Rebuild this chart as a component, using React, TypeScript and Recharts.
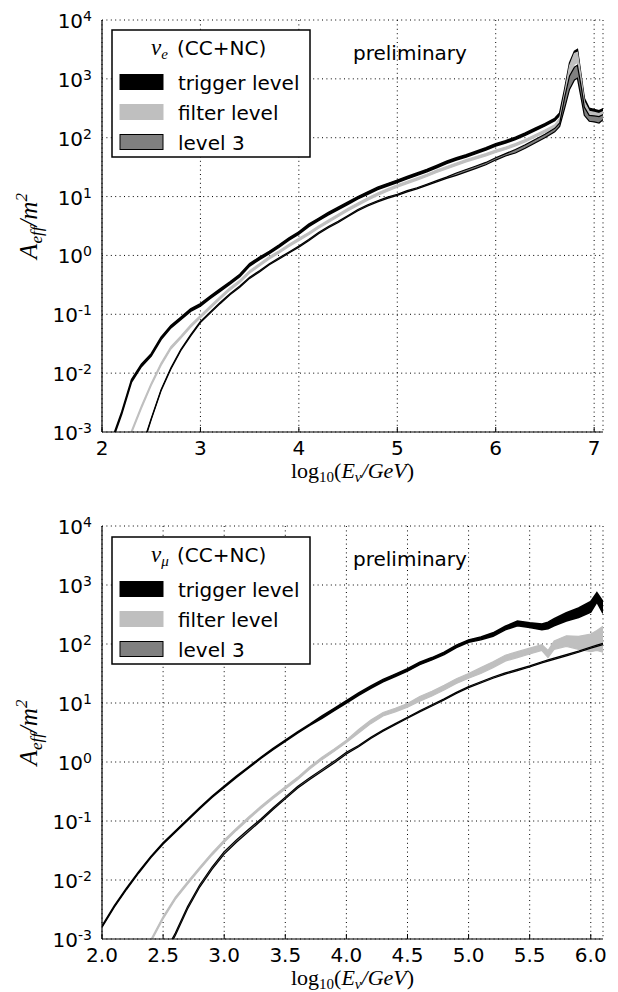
import React from "react";
import { ComposedChart, Area, XAxis, YAxis, CartesianGrid } from "recharts";

const W = 618;
const H = 496;
const PLOT_LEFT = 102;
const PLOT_RIGHT = 603;
const PLOT_W = PLOT_RIGHT - PLOT_LEFT;
const SANS = "DejaVu Sans";
const SERIF = "Liberation Serif";

const FILTER_GRAY = "#bfbfbf";
const LEVEL3_GRAY = "#808080";

// nu_e panel: log10(E/GeV) and band edges, values are log10(A_eff / m^2)
const NUE_E = [
  2.1, 2.2, 2.3, 2.4, 2.5, 2.6, 2.7, 2.8, 2.9, 3.0,
  3.1, 3.2, 3.3, 3.4, 3.5, 3.6, 3.7, 3.8, 3.9, 4.0,
  4.1, 4.2, 4.3, 4.4, 4.5, 4.6, 4.7, 4.8, 4.9, 5.0,
  5.1, 5.2, 5.3, 5.4, 5.5, 5.6, 5.7, 5.8, 5.9, 6.0,
  6.1, 6.2, 6.3, 6.4, 6.5, 6.6,
  6.65, 6.7, 6.75, 6.8, 6.83, 6.87, 6.9, 6.95, 7.0, 7.05, 7.1,
];
const NUE_TRIG_HI = [
  -3.13, -2.66, -2.11, -1.85, -1.67, -1.39, -1.19, -1.05, -0.91, -0.82,
  -0.69, -0.57, -0.45, -0.32, -0.14, -0.03, 0.07, 0.18, 0.3, 0.4,
  0.53, 0.63, 0.73, 0.82, 0.91, 1.0, 1.08, 1.16, 1.22, 1.28,
  1.34, 1.4, 1.46, 1.53, 1.6, 1.66, 1.71, 1.77, 1.83, 1.9,
  1.95, 2.01, 2.08, 2.16, 2.24, 2.33,
  2.42, 2.82, 3.27, 3.47, 3.5, 3.02, 2.67, 2.5, 2.48, 2.46, 2.5,
];
const NUE_TRIG_LO = [
  -3.17, -2.7, -2.15, -1.89, -1.71, -1.43, -1.23, -1.09, -0.95, -0.86,
  -0.73, -0.61, -0.49, -0.36, -0.18, -0.07, 0.03, 0.14, 0.26, 0.36,
  0.49, 0.59, 0.69, 0.78, 0.87, 0.96, 1.04, 1.12, 1.18, 1.24,
  1.3, 1.36, 1.42, 1.49, 1.56, 1.62, 1.67, 1.73, 1.79, 1.86,
  1.91, 1.97, 2.04, 2.12, 2.2, 2.29,
  2.38, 2.76, 3.2, 3.42, 3.46, 2.96, 2.62, 2.46, 2.44, 2.42, 2.46,
];
const NUE_FILT_HI = [
  -3.98, -3.48, -2.98, -2.56, -2.17, -1.83, -1.55, -1.37, -1.18, -1.02,
  -0.86, -0.7, -0.55, -0.42, -0.26, -0.14, -0.02, 0.08, 0.19, 0.29,
  0.39, 0.5, 0.6, 0.7, 0.8, 0.89, 0.98, 1.06, 1.13, 1.2,
  1.26, 1.32, 1.38, 1.45, 1.51, 1.57, 1.63, 1.68, 1.73, 1.79,
  1.84, 1.9, 1.97, 2.05, 2.13, 2.22,
  2.33, 2.75, 3.22, 3.43, 3.45, 2.99, 2.61, 2.45, 2.43, 2.41, 2.45,
];
const NUE_FILT_LO = [
  -4.02, -3.52, -3.02, -2.6, -2.21, -1.87, -1.59, -1.41, -1.22, -1.06,
  -0.9, -0.74, -0.59, -0.46, -0.3, -0.18, -0.06, 0.04, 0.15, 0.25,
  0.35, 0.46, 0.56, 0.66, 0.76, 0.85, 0.94, 1.02, 1.09, 1.16,
  1.22, 1.28, 1.34, 1.41, 1.47, 1.53, 1.59, 1.64, 1.69, 1.75,
  1.8, 1.86, 1.93, 2.01, 2.09, 2.18,
  2.27, 2.62, 3.05, 3.25, 3.28, 2.9, 2.55, 2.39, 2.37, 2.35, 2.39,
];
const NUE_L3_HI = [
  -4.5, -4.0, -3.7, -3.28, -2.77, -2.28, -1.91, -1.6, -1.35, -1.12,
  -0.96, -0.8, -0.65, -0.52, -0.37, -0.26, -0.14, -0.04, 0.06, 0.16,
  0.27, 0.39, 0.49, 0.58, 0.68, 0.78, 0.86, 0.93, 0.99, 1.04,
  1.1, 1.15, 1.21, 1.27, 1.33, 1.4, 1.46, 1.52, 1.58, 1.66,
  1.73, 1.8, 1.88, 1.97, 2.06, 2.16,
  2.25, 2.68, 3.05, 3.2, 3.23, 2.85, 2.52, 2.38, 2.37, 2.36, 2.4,
];
const NUE_L3_LO = [
  -4.55, -4.05, -3.75, -3.32, -2.79, -2.3, -1.93, -1.62, -1.37, -1.14,
  -0.98, -0.82, -0.67, -0.54, -0.39, -0.28, -0.16, -0.06, 0.04, 0.14,
  0.25, 0.37, 0.47, 0.56, 0.66, 0.76, 0.84, 0.91, 0.97, 1.02,
  1.08, 1.13, 1.19, 1.25, 1.31, 1.36, 1.42, 1.48, 1.54, 1.62,
  1.69, 1.74, 1.82, 1.91, 2.0, 2.1,
  2.19, 2.5, 2.82, 2.98, 3.01, 2.65, 2.38, 2.28, 2.27, 2.25, 2.32,
];

// nu_mu panel
const NUMU_E = [
  2.0, 2.1, 2.2, 2.3, 2.4, 2.5, 2.6, 2.7, 2.8, 2.9,
  3.0, 3.1, 3.2, 3.3, 3.4, 3.5, 3.6, 3.7, 3.8, 3.9,
  4.0, 4.1, 4.2, 4.3, 4.4, 4.5, 4.6, 4.7, 4.8, 4.9,
  5.0, 5.1, 5.2, 5.3, 5.4, 5.5, 5.6,
  5.65, 5.7, 5.8, 5.9, 6.0, 6.05, 6.1,
];
const NUMU_TRIG_HI = [
  -2.78, -2.44, -2.14, -1.86, -1.6, -1.37, -1.17, -0.97, -0.77, -0.58,
  -0.41, -0.24, -0.08, 0.08, 0.23, 0.37, 0.51, 0.64, 0.78, 0.91,
  1.04, 1.17, 1.29, 1.4, 1.49, 1.58, 1.69, 1.77, 1.86, 1.98,
  2.07, 2.12, 2.19, 2.3, 2.39, 2.36, 2.34,
  2.37, 2.43, 2.53, 2.61, 2.72, 2.87, 2.72,
];
const NUMU_TRIG_LO = [
  -2.8, -2.46, -2.16, -1.88, -1.62, -1.39, -1.19, -0.99, -0.79, -0.6,
  -0.43, -0.26, -0.1, 0.06, 0.21, 0.35, 0.49, 0.62, 0.74, 0.87,
  1.0, 1.13, 1.25, 1.36, 1.45, 1.54, 1.65, 1.73, 1.82, 1.94,
  2.03, 2.07, 2.13, 2.24, 2.31, 2.28, 2.24,
  2.26, 2.31, 2.39, 2.45, 2.54, 2.71, 2.52,
];
const NUMU_FILT_HI = [
  -4.98, -4.58, -4.08, -3.48, -3.01, -2.62, -2.29, -2.03, -1.78, -1.54,
  -1.32, -1.12, -0.93, -0.75, -0.58, -0.42, -0.26, -0.08, 0.08, 0.22,
  0.37, 0.55, 0.71, 0.84, 0.91, 0.99, 1.11, 1.2, 1.3, 1.41,
  1.5, 1.6, 1.7, 1.81, 1.87, 1.93, 1.99,
  1.89, 2.05, 2.14, 2.13, 2.17, 2.23, 2.3,
];
const NUMU_FILT_LO = [
  -5.02, -4.62, -4.12, -3.52, -3.05, -2.66, -2.33, -2.07, -1.82, -1.58,
  -1.36, -1.16, -0.97, -0.79, -0.62, -0.46, -0.3, -0.12, 0.04, 0.18,
  0.33, 0.49, 0.65, 0.78, 0.85, 0.93, 1.03, 1.12, 1.22, 1.33,
  1.42, 1.5, 1.6, 1.71, 1.77, 1.83, 1.89,
  1.77, 1.91, 1.96, 1.91, 1.87, 1.89, 1.86,
];
const NUMU_L3_HI = [
  -5.98, -5.58, -5.08, -4.58, -3.98, -3.28, -2.9, -2.45, -2.08, -1.78,
  -1.52, -1.32, -1.14, -0.965, -0.775, -0.595, -0.415, -0.265, -0.125, 0.015,
  0.165, 0.28, 0.42, 0.54, 0.65, 0.76, 0.87, 0.97, 1.07, 1.18,
  1.28, 1.36, 1.44, 1.51, 1.57, 1.63, 1.7,
  1.73, 1.76, 1.82, 1.88, 1.95, 1.98, 2.01,
];
const NUMU_L3_LO = [
  -6.02, -5.62, -5.12, -4.62, -4.02, -3.32, -2.94, -2.49, -2.12, -1.82,
  -1.56, -1.36, -1.18, -0.995, -0.805, -0.625, -0.445, -0.295, -0.155, -0.015,
  0.135, 0.26, 0.4, 0.52, 0.63, 0.74, 0.85, 0.95, 1.05, 1.16,
  1.26, 1.34, 1.42, 1.49, 1.55, 1.61, 1.68,
  1.71, 1.74, 1.8, 1.86, 1.93, 1.96, 1.99,
];

const NUE_X_TICKS = [2, 3, 4, 5, 6, 7];
const NUMU_X_TICKS = [2.0, 2.5, 3.0, 3.5, 4.0, 4.5, 5.0, 5.5, 6.0];
const Y_EXPONENTS = [-3, -2, -1, 0, 1, 2, 3, 4];
const Y_MAJOR = Y_EXPONENTS.map((p) => Math.pow(10, p));
const Y_MINOR = Y_EXPONENTS.slice(0, -1).flatMap((p) =>
  [2, 3, 4, 5, 6, 7, 8, 9].map((m) => m * Math.pow(10, p))
);
const Y_ALL = [...Y_MAJOR, ...Y_MINOR].sort((a, b) => a - b);

const LEGEND_LABELS = ["trigger level", "filter level", "level 3"];

function buildRows(e, tLo, tHi, fLo, fHi, lLo, lHi) {
  return e.map((x, i) => ({
    e: x,
    trigger: [10 ** tLo[i], 10 ** tHi[i]],
    filter: [10 ** fLo[i], 10 ** fHi[i]],
    level3: [10 ** lLo[i], 10 ** lHi[i]],
  }));
}

const nueRows = buildRows(NUE_E, NUE_TRIG_LO, NUE_TRIG_HI, NUE_FILT_LO, NUE_FILT_HI, NUE_L3_LO, NUE_L3_HI);
const numuRows = buildRows(NUMU_E, NUMU_TRIG_LO, NUMU_TRIG_HI, NUMU_FILT_LO, NUMU_FILT_HI, NUMU_L3_LO, NUMU_L3_HI);

const isDecade = (v) => Math.abs(Math.log10(v) - Math.round(Math.log10(v))) < 1e-6;

const YLabelTick = ({ x, y, payload }: any) => {
  const exp = Math.round(Math.log10(payload.value));
  return (
    <text x={x - 10} y={y + 8} textAnchor="end" fontFamily={SANS} fontSize={20} fill="#000">
      10
      <tspan dy={-7} fontSize={14}>{exp}</tspan>
    </text>
  );
};

// drawn from the right axis, ticks on both sides, pointing inwards
const YMinorTick = ({ x, y, payload }: any) => {
  const len = isDecade(payload.value) ? 5 : 2.5;
  return (
    <g>
      <line x1={x} x2={x - len} y1={y} y2={y} stroke="#000" strokeWidth={1} />
      <line x1={x - PLOT_W} x2={x - PLOT_W + len} y1={y} y2={y} stroke="#000" strokeWidth={1} />
    </g>
  );
};

const TopTick = ({ x, y }: any) => (
  <line x1={x} x2={x} y1={y} y2={y + 5} stroke="#000" strokeWidth={1} />
);

function Panel({ rows, xMax, xTicks, decimals, marginTop, marginBottom }: any) {
  const BottomTick = ({ x, y, payload }: any) => (
    <g>
      <line x1={x} x2={x} y1={y} y2={y - 5} stroke="#000" strokeWidth={1} />
      <text x={x} y={y + 23} textAnchor="middle" fontFamily={SANS} fontSize={20} fill="#000">
        {Number(payload.value).toFixed(decimals)}
      </text>
    </g>
  );
  const axisLine = { stroke: "#000", strokeWidth: 1.2 };
  return (
    <ComposedChart
      width={W}
      height={H}
      data={rows}
      margin={{ top: marginTop, right: 15, bottom: marginBottom, left: 42 }}
    >
      <CartesianGrid stroke="#000" strokeWidth={1} strokeDasharray="1 3.4" />
      <XAxis
        dataKey="e"
        type="number"
        domain={[2, xMax]}
        allowDataOverflow
        ticks={xTicks}
        interval={0}
        tickSize={0}
        tickMargin={0}
        height={40}
        axisLine={axisLine}
        tickLine={false}
        tick={(p) => <BottomTick {...p} />}
      />
      <XAxis
        xAxisId="top"
        orientation="top"
        dataKey="e"
        type="number"
        domain={[2, xMax]}
        allowDataOverflow
        ticks={xTicks}
        interval={0}
        tickSize={0}
        tickMargin={0}
        height={0}
        axisLine={axisLine}
        tickLine={false}
        tick={(p) => <TopTick {...p} />}
      />
      <YAxis
        type="number"
        scale="log"
        domain={[1e-3, 1e4]}
        allowDataOverflow
        ticks={Y_MAJOR}
        interval={0}
        tickSize={0}
        tickMargin={0}
        width={60}
        axisLine={axisLine}
        tickLine={false}
        tick={(p) => <YLabelTick {...p} />}
      />
      <YAxis
        yAxisId="minor"
        orientation="right"
        type="number"
        scale="log"
        domain={[1e-3, 1e4]}
        allowDataOverflow
        ticks={Y_ALL}
        interval={0}
        tickSize={0}
        tickMargin={0}
        width={0}
        axisLine={axisLine}
        tickLine={false}
        tick={(p) => <YMinorTick {...p} />}
      />
      <Area
        type="linear"
        dataKey="trigger"
        stroke="#000"
        strokeWidth={1.5}
        fill="#000"
        fillOpacity={1}
        dot={false}
        activeDot={false}
        isAnimationActive={false}
      />
      <Area
        type="linear"
        dataKey="filter"
        stroke={FILTER_GRAY}
        strokeWidth={1.2}
        fill={FILTER_GRAY}
        fillOpacity={1}
        dot={false}
        activeDot={false}
        isAnimationActive={false}
      />
      <Area
        type="linear"
        dataKey="level3"
        stroke="#000"
        strokeWidth={1.2}
        fill={LEVEL3_GRAY}
        fillOpacity={1}
        dot={false}
        activeDot={false}
        isAnimationActive={false}
      />
    </ComposedChart>
  );
}

function LegendBox({ top, sub }: any) {
  const fills = ["#000", FILTER_GRAY, LEVEL3_GRAY];
  const edges = ["#000", FILTER_GRAY, "#000"];
  return (
    <g>
      <rect x={112} y={top} width={198} height={127} fill="#fff" stroke="#000" strokeWidth={1.5} />
      <text x={151} y={top + 25} fill="#000">
        <tspan fontFamily={SERIF} fontStyle="italic" fontSize={23}>ν</tspan>
        <tspan fontFamily={SERIF} fontStyle="italic" fontSize={15} dy={4}>{sub}</tspan>
        <tspan x={177} dy={-4} fontFamily={SANS} fontSize={20}>(CC+NC)</tspan>
      </text>
      {LEGEND_LABELS.map((label, i) => (
        <g key={label}>
          <rect x={120} y={top + 44.5 + i * 30} width={43} height={15} fill={fills[i]} stroke={edges[i]} strokeWidth={1} />
          <text x={178} y={top + 59.5 + i * 30} fontFamily={SANS} fontSize={20} fill="#000">
            {label}
          </text>
        </g>
      ))}
    </g>
  );
}

function AxisTitles({ plotTop, plotBottom }: any) {
  const cy = (plotTop + plotBottom) / 2;
  const cx = (PLOT_LEFT + PLOT_RIGHT) / 2;
  return (
    <g fill="#000">
      <text transform={`translate(37 ${cy}) rotate(-90)`} textAnchor="middle" fontFamily={SERIF} fontStyle="italic" fontSize={25}>
        A<tspan fontSize={17} dy={5}>eff</tspan>
        <tspan dy={-5}>/m</tspan>
        <tspan fontSize={17} dy={-10}>2</tspan>
      </text>
      <text x={cx} y={plotBottom + 46} textAnchor="middle" fontFamily={SERIF} fontSize={22}>
        log<tspan fontSize={15} dy={4}>10</tspan>
        <tspan dy={-4}>(</tspan>
        <tspan fontStyle="italic">E</tspan>
        <tspan fontStyle="italic" fontSize={15} dy={4}>ν</tspan>
        <tspan fontStyle="italic" dy={-4}>/GeV</tspan>
        <tspan>)</tspan>
      </text>
      <text x={353} y={plotTop + 40} fontFamily={SANS} fontSize={20}>
        preliminary
      </text>
    </g>
  );
}

export default function App() {
  return (
    <div style={{ position: "absolute", left: 0, top: 0, width: W, height: 992, background: "#fff" }}>
      <div style={{ position: "absolute", left: 0, top: 0 }}>
        <Panel rows={nueRows} xMax={7.09} xTicks={NUE_X_TICKS} decimals={0} marginTop={20} marginBottom={24} />
      </div>
      <div style={{ position: "absolute", left: 0, top: 496 }}>
        <Panel rows={numuRows} xMax={6.1} xTicks={NUMU_X_TICKS} decimals={1} marginTop={30} marginBottom={13} />
      </div>
      <svg
        width={W}
        height={992}
        style={{ position: "absolute", left: 0, top: 0, pointerEvents: "none" }}
      >
        <AxisTitles plotTop={20} plotBottom={432} />
        <AxisTitles plotTop={526} plotBottom={939} />
        <LegendBox top={30} sub="e" />
        <LegendBox top={537} sub="μ" />
      </svg>
    </div>
  );
}
